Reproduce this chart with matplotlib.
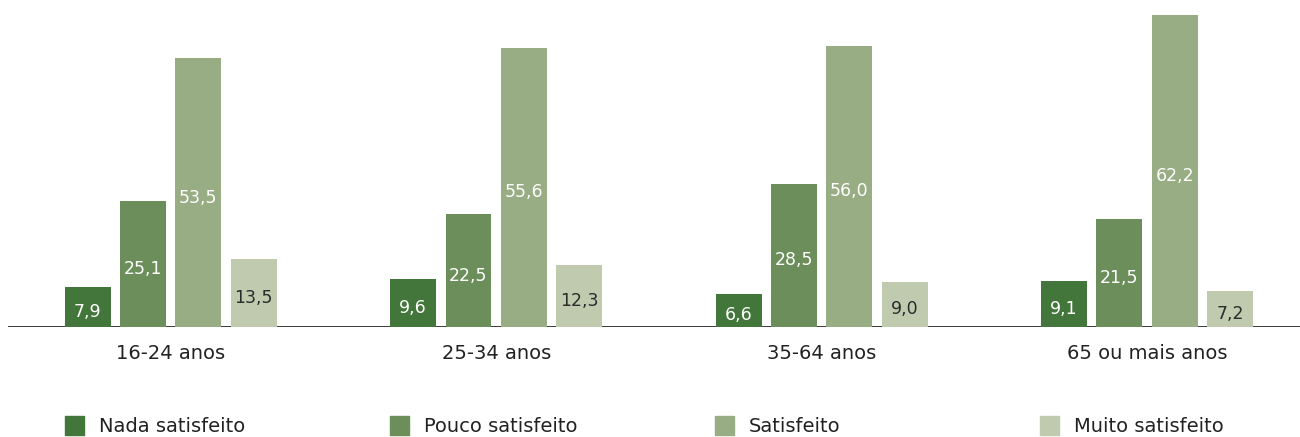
import matplotlib
matplotlib.use("Agg")
import matplotlib.pyplot as plt
from matplotlib import font_manager
from matplotlib.patches import Rectangle
import numpy as np

groups = ["16-24 anos", "25-34 anos", "35-64 anos", "65 ou mais anos"]
series = ["Nada satisfeito", "Pouco satisfeito", "Satisfeito", "Muito satisfeito"]
values = {
    "Nada satisfeito": [7.9, 9.6, 6.6, 9.1],
    "Pouco satisfeito": [25.1, 22.5, 28.5, 21.5],
    "Satisfeito": [53.5, 55.6, 56.0, 62.2],
    "Muito satisfeito": [13.5, 12.3, 9.0, 7.2],
}
colors = ["#43763a", "#6b8e5a", "#98ad84", "#bfcaae"]
text_colors = ["white", "white", "white", "#2b2b2b"]

names = {f.name for f in font_manager.fontManager.ttflist}
family = [f for f in ["Liberation Sans Narrow", "DejaVu Sans Condensed", "DejaVu Sans"] if f in names]
plt.rcParams["font.family"] = family

W, H = 1300, 437
fig = plt.figure(figsize=(W / 100, H / 100), dpi=100)
ax = fig.add_axes([8 / W, 110 / H, 1292 / W, 327 / H])

x = np.arange(len(groups))
step = 0.17
width = 0.141
offsets = (np.arange(len(series)) - 1.5) * step

for i, s in enumerate(series):
    vals = values[s]
    bars = ax.bar(x + offsets[i], vals, width, color=colors[i], zorder=2)
    for b, v in zip(bars, vals):
        ax.text(b.get_x() + b.get_width() / 2, v / 2 - 1.0, f"{v:.1f}".replace(".", ","),
                ha="center", va="center", color=text_colors[i], fontsize=12.5, zorder=3)

ax.axhline(0, color="#1a1a1a", lw=1.2, zorder=1)
ax.set_xlim(-0.5, 3.47)
ax.set_ylim(0, 65.1)
ax.set_xticks(x)
ax.set_xticklabels(groups, fontsize=14, color="#222222")
ax.tick_params(axis="x", length=0, pad=12)
ax.set_yticks([])
for sp in ax.spines.values():
    sp.set_visible(False)

# legend, one entry under each group's first bar
for i, s in enumerate(series):
    left = 65 + i * 325
    fig.patches.append(Rectangle((left / W, 1 - 435 / H), 19 / W, 19 / H,
                                 transform=fig.transFigure, color=colors[i]))
    fig.text((left + 34) / W, 1 - 426 / H, s, ha="left", va="center",
             fontsize=14, color="#222222")

fig.savefig("out.png", dpi=100)
